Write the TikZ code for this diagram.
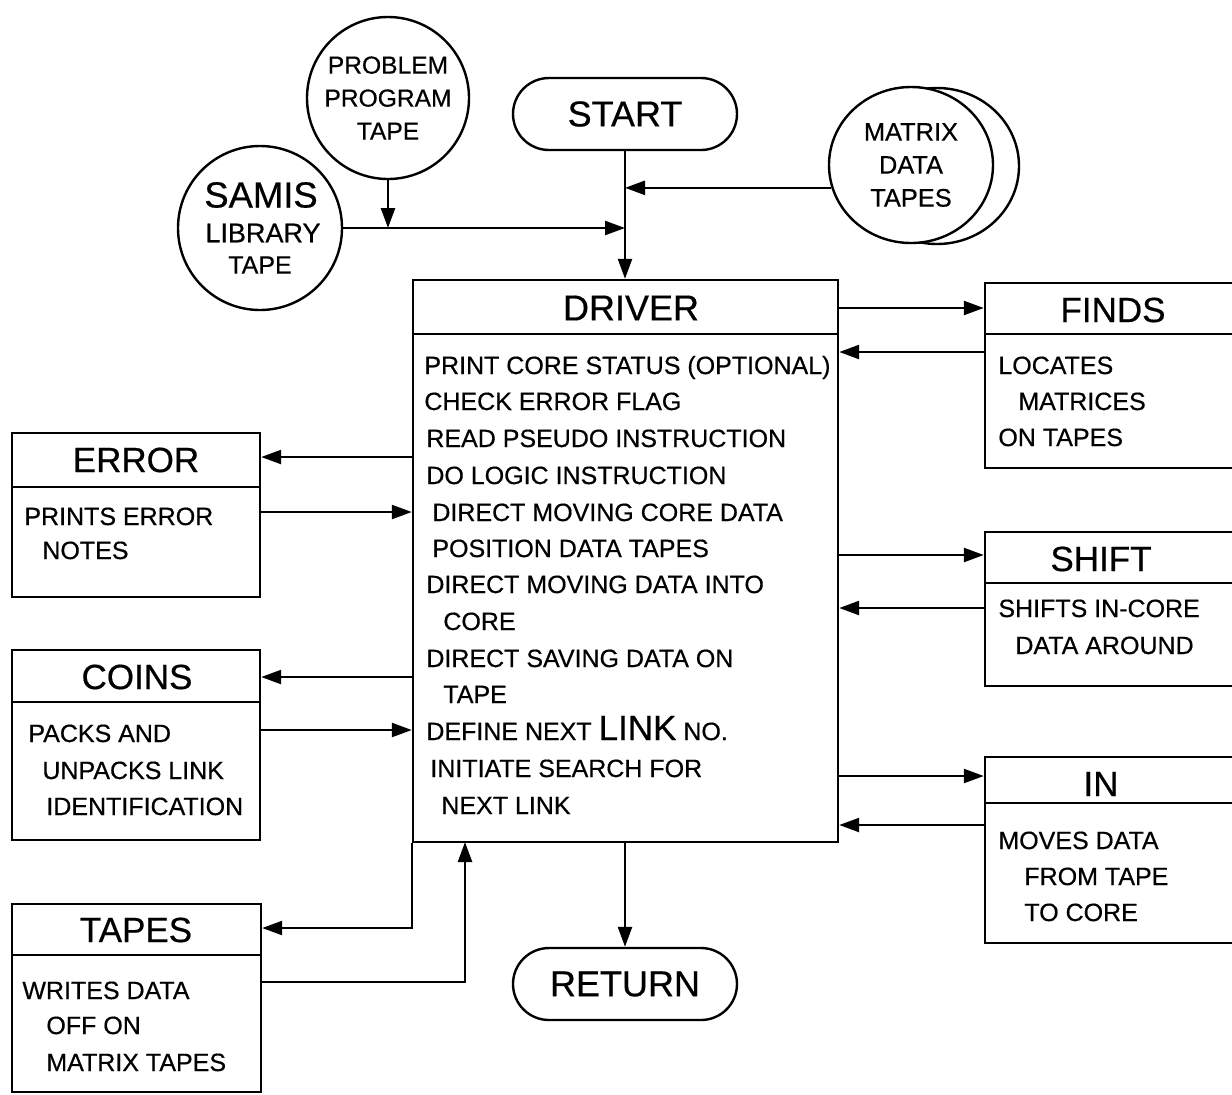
\documentclass[tikz,border=0pt]{standalone}
\usepackage{fontspec}
\setmainfont{Liberation Sans}[FakeBold=0.5]
\usetikzlibrary{fit,arrows.meta,shapes.misc,shapes.geometric}
\tikzset{
  ln/.style={line width=1.2pt},
  arr/.style={ln,-{Triangle[length=10pt,width=7pt]}},
  boxf/.style={draw,ln,inner sep=0pt,rectangle},
  body/.style={anchor=base west,inner sep=0pt,font=\fontsize{12.5}{14}\selectfont},
  head/.style={anchor=center,inner sep=0pt,font=\fontsize{17.5}{20}\selectfont},
  term/.style={draw,ln,rounded rectangle,minimum width=112pt,minimum height=36pt,inner sep=0pt,font=\fontsize{18}{20}\selectfont},
}
\begin{document}
\begin{tikzpicture}[x=0.5pt,y=-0.5pt]
\useasboundingbox (0,0) rectangle (1232,1094);
\clip (0,0) rectangle (1232,1094);
% tapes (circles)
\node[draw,ln,circle,minimum size=81pt,inner sep=0pt,align=center,font=\fontsize{12.3}{16.5}\selectfont] (prob) at (388,98) {PROBLEM\\PROGRAM\\TAPE};
\node[draw,ln,circle,minimum size=82pt,inner sep=0pt] (samis) at (260,228) {};
\node[inner sep=0pt,font=\fontsize{18.2}{20}\selectfont] (samisA) at (261,195) {SAMIS};
\node[inner sep=0pt,font=\fontsize{13.5}{16}\selectfont] (samisB) at (263,233) {LIBRARY};
\node[inner sep=0pt,font=\fontsize{12.5}{16}\selectfont] (samisC) at (260,265) {TAPE};
\node[draw,ln,ellipse,minimum width=82pt,minimum height=78pt,inner sep=0pt,fill=white] (mxback) at (937,166) {};
\node[draw,ln,ellipse,minimum width=82pt,minimum height=78pt,inner sep=0pt,fill=white,align=center,font=\fontsize{12.7}{16.5}\selectfont] (mx) at (911,165) {MATRIX\\DATA\\TAPES};
% terminals
\node[term] (start) at (625,114) {START};
\node[term] (ret) at (625,984) {RETURN};
% driver
\node[boxf,fit={(413,280)(838,842)}] (driver) {};
\draw[ln] (413,334) -- (838,334);
\node[head,font=\fontsize{18}{20}\selectfont] (drvh) at (631,308) {DRIVER};
\node[body] (d1) at (424,374) {PRINT CORE STATUS (OPTIONAL)};
\node[body] (d2) at (424,410) {CHECK ERROR FLAG};
\node[body] (d3) at (426,447) {READ PSEUDO INSTRUCTION};
\node[body] (d4) at (426,484) {DO LOGIC INSTRUCTION};
\node[body] (d5) at (432,521) {DIRECT MOVING CORE DATA};
\node[body] (d6) at (432,557) {POSITION DATA TAPES};
\node[body] (d7) at (426,593) {DIRECT MOVING DATA INTO};
\node[body] (d8) at (443,630) {CORE};
\node[body] (d9) at (426,667) {DIRECT SAVING DATA ON};
\node[body] (d10) at (443,703) {TAPE};
\node[body] (d11) at (426,740) {DEFINE NEXT {\fontsize{17.5}{20}\selectfont LINK} NO.};
\node[body] (d12) at (430,777) {INITIATE SEARCH FOR};
\node[body] (d13) at (441,814) {NEXT LINK};
% right boxes
\node[boxf,fit={(985,283)(1270,468)}] (finds) {};
\draw[ln] (985,334) -- (1270,334);
\node[head] (findsh) at (1113,310) {FINDS};
\node[body] (f1) at (998,374) {LOCATES};
\node[body] (f2) at (1018,410) {MATRICES};
\node[body] (f3) at (998,446) {ON TAPES};
\node[boxf,fit={(985,532)(1270,686)}] (shift) {};
\draw[ln] (985,583) -- (1270,583);
\node[head] (shifth) at (1101,559) {SHIFT};
\node[body] (s1) at (998,617) {SHIFTS IN-CORE};
\node[body] (s2) at (1015,654) {DATA AROUND};
\node[boxf,fit={(985,757)(1270,943)}] (in) {};
\draw[ln] (985,803) -- (1270,803);
\node[head] (inh) at (1101,784) {IN};
\node[body] (i1) at (998,849) {MOVES DATA};
\node[body] (i2) at (1024,885) {FROM TAPE};
\node[body] (i3) at (1024,921) {TO CORE};
% left boxes
\node[boxf,fit={(12,433)(260,597)}] (error) {};
\draw[ln] (12,487) -- (260,487);
\node[head] (errorh) at (136,460) {ERROR};
\node[body] (e1) at (24,525) {PRINTS ERROR};
\node[body] (e2) at (42,559) {NOTES};
\node[boxf,fit={(12,650)(260,840)}] (coins) {};
\draw[ln] (12,702) -- (260,702);
\node[head] (coinsh) at (137,677) {COINS};
\node[body] (c1) at (28,742) {PACKS AND};
\node[body] (c2) at (42,779) {UNPACKS LINK};
\node[body] (c3) at (46,815) {IDENTIFICATION};
\node[boxf,fit={(12,904)(261,1092)}] (tapes) {};
\draw[ln] (12,955) -- (261,955);
\node[head] (tapesh) at (136,930) {TAPES};
\node[body] (t1) at (22,999) {WRITES DATA};
\node[body] (t2) at (46,1034) {OFF ON};
\node[body] (t3) at (46,1071) {MATRIX TAPES};
% row coordinates
\coordinate (r308) at (0,308);
\coordinate (r352) at (0,352);
\coordinate (r555) at (0,555);
\coordinate (r608) at (0,608);
\coordinate (r776) at (0,776);
\coordinate (r825) at (0,825);
\coordinate (r457) at (0,457);
\coordinate (r512) at (0,512);
\coordinate (r677) at (0,677);
\coordinate (r730) at (0,730);
\coordinate (r928) at (0,928);
\coordinate (r982) at (0,982);
\coordinate (dtin) at (465,842);
\coordinate (pj) at (prob.south |- samis.east);
\coordinate (sj) at (start.south |- samis.east);
% connectors
\draw[arr] (prob.south) -- (pj);
\draw[arr] (samis.east) -- (sj);
\draw[arr] (mx.196) -- (mx.196 -| start.south);
\draw[arr] (start.south) -- (driver.north -| start.south);
\draw[arr] (driver.east |- r308) -- (finds.west |- r308);
\draw[arr] (finds.west |- r352) -- (driver.east |- r352);
\draw[arr] (driver.east |- r555) -- (shift.west |- r555);
\draw[arr] (shift.west |- r608) -- (driver.east |- r608);
\draw[arr] (driver.east |- r776) -- (in.west |- r776);
\draw[arr] (in.west |- r825) -- (driver.east |- r825);
\draw[arr] (driver.west |- r457) -- (error.east |- r457);
\draw[arr] (error.east |- r512) -- (driver.west |- r512);
\draw[arr] (driver.west |- r677) -- (coins.east |- r677);
\draw[arr] (coins.east |- r730) -- (driver.west |- r730);
\draw[arr] (driver.south west) |- (tapes.east |- r928);
\draw[arr] (tapes.east |- r982) -| (dtin);
\draw[arr] (driver.south -| start.south) -- (ret.north);
\end{tikzpicture}
\end{document}
